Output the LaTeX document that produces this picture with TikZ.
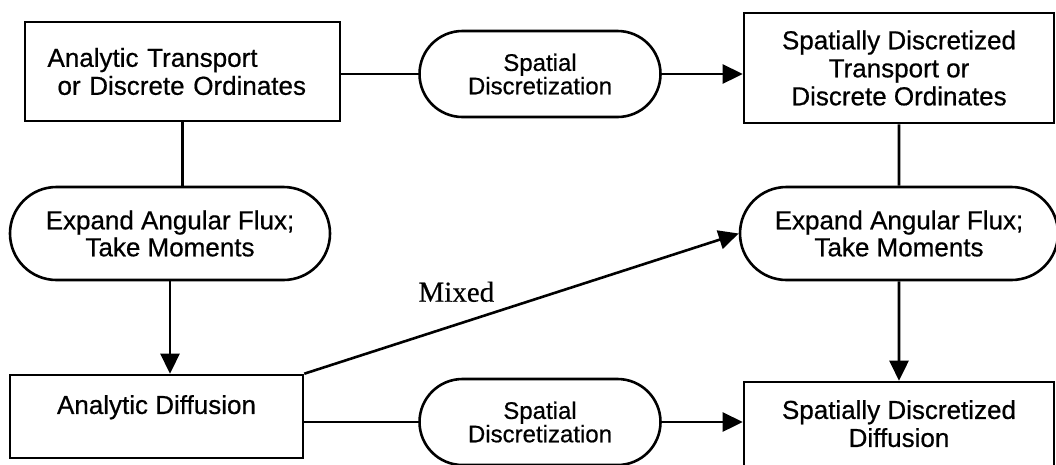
\documentclass[tikz,border=0pt]{standalone}
\usepackage{fontspec}
\setmainfont{Liberation Sans}[FakeBold=0.6]
\newfontfamily\mixedfont{Liberation Serif}[FakeBold=0.4]
\usetikzlibrary{shapes.misc, arrows.meta}

\begin{document}
\begin{tikzpicture}[x=1pt, y=-1pt,
	box/.style = {rectangle, draw, line width=2.6pt, inner sep=0pt,
		align=center, font=\fontsize{26}{28}\selectfont},
	oval/.style = {rounded rectangle, draw, line width=2.6pt, inner sep=0pt,
		align=center, font=\fontsize{26}{27}\selectfont},
	link/.style = {line width=2.6pt},
	arr/.style = {line width=2.6pt, -{Triangle[length=20pt, width=19pt]}}]
\useasboundingbox (0,0) rectangle (1056,464);
\clip (0,0) rectangle (1056,464);

% top row
\node[box, align=left, text width=270pt,
	minimum width = 315pt,
	minimum height = 99pt] (atr) at (182.5,71.5) {Analytic Transport\\\hspace*{10pt}or Discrete Ordinates};
\node[oval, font=\fontsize{24}{22}\selectfont,
	minimum width = 241pt,
	minimum height = 86pt] (sd1) at (540,74) {Spatial\\Discretization};
\node[box,
	minimum width = 310pt,
	minimum height = 110pt] (str) at (899,68) {Spatially Discretized\\Transport or\\Discrete Ordinates};

% middle row
\node[oval,
	minimum width = 320pt,
	minimum height = 93pt] (ea1) at (170,233.5) {Expand Angular Flux;\\Take Moments};
\node[oval,
	minimum width = 318pt,
	minimum height = 93pt] (ea2) at (899,233.5) {Expand Angular Flux;\\Take Moments};

% bottom row
\node[box, text depth = 24pt,
	minimum width = 293pt,
	minimum height = 83pt] (ad) at (156.5,416.5) {Analytic Diffusion};
\node[oval, font=\fontsize{24}{22}\selectfont,
	minimum width = 241pt,
	minimum height = 86pt] (sd2) at (540,422) {Spatial\\Discretization};
\node[box, text depth = 15pt,
	minimum width = 310pt,
	minimum height = 98pt] (sdd) at (899,431) {Spatially Discretized\\Diffusion};

% connectors
\draw[link] (atr.east |- sd1) -- (sd1);
\draw[arr] (sd1.east) -- (sd1.east -| str.west);
\draw[link] (atr.south) -- (atr.south |- ea1.north);
\draw[arr] (ea1.south) -- (ea1.south |- ad.north);
\draw[link] (str) -- (ea2);
\draw[arr] (ea2) -- (sdd);
\draw[arr] (ad.north east) -- node[pos=0.35, above=18pt, font=\mixedfont\fontsize{29}{32}\selectfont] (mixed) {Mixed} (ea2.west);
\draw[link] (sd2.west -| ad.east) -- (sd2.west);
\draw[arr] (sd2.east) -- (sd2.east -| sdd.west);
\end{tikzpicture}
\end{document}
